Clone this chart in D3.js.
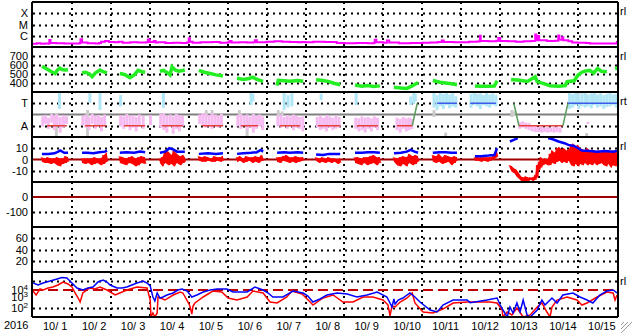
<!DOCTYPE html>
<html>
<head>
<meta charset="utf-8">
<script src="https://cdn.jsdelivr.net/npm/d3@7"></script>
<style>
body { margin: 0; background: #fff; }
text { font-family: "Liberation Sans", Arial, sans-serif; font-size: 11px; fill: #000; }
</style>
</head>
<body>
<script>
// ---- data (days since 10/1 00:00) ----
var dayLabels = ["10/ 1","10/ 2","10/ 3","10/ 4","10/ 5","10/ 6","10/ 7","10/ 8","10/ 9","10/10","10/11","10/12","10/13","10/14","10/15"];

// X-ray flux, in units of B-class (1e-7 W/m2)
var xray = [[0,1.9],[0.1,2.2],[0.2,1.9],[0.3,2.0],[0.4,1.9],[0.42,4.2],[0.45,2.3],[0.6,2.2],[0.8,2.0],[1.0,2.1],[1.1,2.0],[1.2,2.3],[1.22,4.8],[1.26,2.5],[1.4,2.2],[1.6,2.1],[1.7,2.3],[1.75,3.0],[1.85,3.4],[1.95,2.8],[2.1,2.6],[2.2,2.9],[2.3,2.4],[2.5,2.6],[2.7,2.5],[2.9,2.6],[2.95,4.6],[3.0,2.8],[3.1,3.4],[3.15,2.5],[3.2,2.6],[3.4,2.3],[3.6,2.4],[3.8,2.3],[3.95,2.5],[4.0,6.0],[4.03,3.0],[4.1,2.4],[4.3,2.7],[4.5,2.6],[4.6,2.8],[4.8,2.4],[5.0,2.6],[5.05,3.4],[5.1,2.5],[5.3,2.6],[5.5,2.5],[5.65,2.6],[5.7,4.0],[5.75,2.7],[6.0,2.9],[6.2,3.3],[6.4,2.9],[6.6,2.8],[6.8,2.6],[6.9,2.8],[7.0,2.7],[7.2,3.0],[7.5,2.8],[7.8,2.3],[8.0,2.2],[8.3,2.3],[8.6,2.2],[8.75,2.4],[8.78,4.5],[8.82,2.6],[9.0,2.4],[9.09,3.8],[9.15,2.5],[9.4,2.2],[9.7,2.3],[10.0,2.4],[10.2,2.5],[10.4,2.8],[10.5,3.8],[10.55,2.8],[10.8,2.6],[11.0,2.7],[11.2,3.0],[11.4,3.1],[11.47,3.2],[11.48,10],[11.5,3.5],[11.7,3.3],[11.9,3.6],[11.95,6.3],[12.0,3.5],[12.2,3.2],[12.4,3.0],[12.6,3.2],[12.8,3.4],[12.9,13],[12.93,4.0],[12.97,9.5],[13.0,4.0],[13.2,3.5],[13.4,3.6],[13.49,10.5],[13.52,4.5],[13.59,7.5],[13.62,4.0],[13.75,3.2],[13.85,2.5],[14.0,2.4],[14.2,2.3],[14.3,2.1],[14.5,2.0],[14.7,2.1],[14.9,2.0],[14.98,2.2],[15.0,3.4]];

// solar wind speed km/s, null = gap
var speed = [[0.23,585],[0.3,570],[0.4,545],[0.5,520],[0.57,505],[0.62,540],[0.69,565],[0.75,550],[0.82,545],[0.9,548],[0.95,null],
  [1.26,515],[1.35,520],[1.45,500],[1.52,470],[1.6,510],[1.72,545],[1.8,525],[1.9,512],[1.95,null],
  [2.23,505],[2.35,495],[2.49,460],[2.6,490],[2.7,540],[2.8,525],[2.88,520],[2.95,null],
  [3.26,530],[3.35,540],[3.45,515],[3.52,490],[3.57,580],[3.65,545],[3.75,530],[3.9,545],[3.95,null],
  [4.26,540],[4.4,520],[4.55,505],[4.7,490],[4.88,478],[4.95,null],
  [5.24,452],[5.4,440],[5.55,450],[5.65,465],[5.75,440],[5.91,418],[5.95,null],
  [6.27,370],[6.3,430],[6.45,425],[6.6,420],[6.8,428],[6.94,420],[7.0,null],
  [7.27,435],[7.45,428],[7.6,415],[7.75,395],[7.89,380],[7.95,null],
  [8.27,378],[8.45,365],[8.6,372],[8.75,362],[8.91,368],[8.95,null],
  [9.27,352],[9.45,345],[9.6,340],[9.75,370],[9.89,405],[9.95,null],
  [10.27,428],[10.45,408],[10.6,400],[10.75,392],[10.89,380],[10.95,null],
  [11.35,368],[11.5,365],[11.7,363],[11.85,366],[11.92,425],[12.0,null],
  [12.28,440],[12.5,430],[12.7,418],[12.9,470],[12.95,415],[13.1,395],[13.28,370],[13.5,365],[13.67,372],[13.72,415],[13.9,425],[14.0,489],[14.1,520],[14.2,535],[14.3,540],[14.4,510],[14.5,560],[14.6,530],[14.74,525],[14.8,null],
  [14.95,560],[15.0,565]];

// IMF longitude (deg) scatter: [day, high, low]
var awayPhi = [[0.25,210,130],[0.32,221,150],[0.4,200,110],[0.48,230,160],[0.55,215,100],[0.62,225,140],[0.7,205,80],[0.78,220,120],[0.86,210,150],
  [1.28,215,140],[1.36,225,120],[1.44,205,100],[1.52,230,150],[1.6,215,110],[1.68,220,130],[1.76,205,90],[1.84,225,140],
  [2.25,220,130],[2.33,210,110],[2.41,230,140],[2.49,215,100],[2.57,220,120],[2.65,205,90],[2.73,225,130],[2.83,215,110],
  [3.02,220,140],[3.28,230,120],[3.36,237,100],[3.44,215,80],[3.52,225,130],[3.6,210,70],[3.68,230,110],[3.76,220,90],[3.84,215,130],
  [4.28,225,150],[4.36,237,140],[4.44,230,120],[4.52,220,130],[4.6,235,110],[4.68,225,140],[4.76,215,120],[4.84,230,130],
  [5.26,220,130],[5.34,230,110],[5.42,215,140],[5.5,225,100],[5.58,210,120],[5.66,230,80],[5.74,215,110],[5.82,225,130],[5.9,210,100],
  [6.29,215,130],[6.37,225,120],[6.45,205,140],[6.53,220,110],[6.61,210,130],[6.69,225,100],[6.77,215,120],[6.85,205,110],[6.93,210,90],
  [7.3,205,120],[7.38,215,100],[7.46,200,110],[7.54,220,90],[7.62,210,120],[7.7,200,100],[7.78,215,110],[7.86,205,120],
  [8.29,200,110],[8.37,195,90],[8.45,210,100],[8.53,200,80],[8.61,205,110],[8.69,195,90],[8.77,210,120],[8.85,200,100],
  [9.35,200,100],[9.43,190,80],[9.51,205,110],[9.59,195,90],[9.67,200,100],[9.73,190,110],
  [12.5,165,110],[12.58,170,120],[12.66,160,110],[12.74,155,100],[12.82,140,90],[12.9,130,85],[12.98,125,85],[13.06,130,80],[13.14,120,85],[13.22,125,80],[13.3,120,85],[13.38,125,80],[13.46,130,85],[13.54,120,80],
  [14.25,165,150]];
var towardPhi = [[0.68,405,270],[1.46,400,320],[1.72,405,260],[2.25,380,290],[3.35,405,280],[5.6,400,300],[5.65,390,330],[6.45,400,260],[6.55,380,280],[6.65,395,290],[7.4,390,340],[8.3,400,300],[9.7,370,300],[9.78,400,310],[9.82,390,330],
  [10.3,400,280],[10.38,380,260],[10.46,405,290],[10.54,390,270],[10.62,400,300],[10.7,385,275],[10.78,400,290],[10.86,370,280],
  [11.25,390,280],[11.33,400,300],[11.41,385,290],[11.49,395,270],[11.57,380,300],[11.65,400,290],[11.73,385,280],[11.81,395,300],[11.89,380,290],
  [13.78,400,270],[13.86,390,280],[13.94,405,300],[14.02,385,270],[14.1,395,290],[14.18,400,280],[14.26,385,290],[14.34,395,275],[14.42,400,300],[14.5,385,280],[14.58,395,290],[14.66,380,270],[14.74,390,285],[14.82,400,290],[14.9,385,300],[14.98,390,280]];
var otherPhi = [[0.6,237,45],[1.4,261,45],[4.45,260,205],[4.6,261,210],[5.3,261,205],[5.5,180,50],[6.3,260,210],[6.4,250,220],[10.3,261,205],[10.6,80,45],[11.4,390,360],[12.3,261,205],[12.35,250,215],[14.0,400,320],[14.2,390,300],[14.4,380,330],[14.22,77,45]];

// sector assignment
var sectorAway = [[0.36,0.87],[1.34,1.88],[2.34,2.88],[3.31,3.85],[4.34,4.88],[5.34,5.78],[6.34,6.86],[7.32,7.89],[8.32,8.86],[9.35,9.74],[12.48,13.61]];
var sectorToward = [[10.38,10.89],[11.23,11.89],[13.74,15]];
var sectorTurns = [[9.74,135,9.87,315],[12.35,315,12.48,135],[13.61,135,13.74,315]];

// Bz range [day, low, high] nT, null = gap
var bz = [[0.23,-2,2],[0.3,-3,1],[0.38,-3,2],[0.46,-4,1],[0.54,-3,1],[0.62,-5,2],[0.69,-6,1],[0.76,-4,1],[0.84,-3,3],[0.90,-2,2],[0.95,null,null],
  [1.26,-3,1],[1.34,-4,1],[1.42,-3,1],[1.5,-5,1],[1.58,-4,2],[1.66,-3,1],[1.74,-5,1],[1.82,-4,4],[1.90,-2,6],[1.95,null,null],
  [2.23,-3,3],[2.31,-4,2],[2.39,-5,1],[2.47,-3,2],[2.55,-4,3],[2.63,-6,1],[2.71,-5,2],[2.79,-3,3],[2.88,-4,2],[2.95,null,null],
  [3.26,-3,1],[3.32,-6,2],[3.4,-3,8],[3.48,-5,7],[3.56,-4,4],[3.62,-6,8],[3.70,-3,5],[3.78,-5,3],[3.86,-3,4],[3.90,-2,2],[3.95,null,null],
  [4.26,-1,3],[4.34,-2,2],[4.42,-2,3],[4.5,-1,2],[4.58,-2,1],[4.66,-2,3],[4.74,-1,2],[4.82,-2,2],[4.88,-1,3],[4.95,null,null],
  [5.24,-2,2],[5.32,-1,3],[5.4,-3,1],[5.48,-2,3],[5.56,-1,2],[5.64,-3,2],[5.72,-2,3],[5.80,-3,2],[5.88,-1,4],[5.91,-1,2],[5.95,null,null],
  [6.27,-2,2],[6.35,-3,2],[6.43,-1,3],[6.51,-2,4],[6.59,-3,2],[6.67,-2,2],[6.75,-3,3],[6.83,-2,2],[6.94,-1,2],[7.0,null,null],
  [7.27,-1,2],[7.35,-3,1],[7.43,-2,2],[7.51,-3,1],[7.59,-2,2],[7.67,-3,1],[7.75,-2,1],[7.83,-4,0],[7.89,-3,1],[7.95,null,null],
  [8.27,-3,2],[8.35,-4,2],[8.43,-5,1],[8.51,-3,2],[8.59,-5,2],[8.67,-4,3],[8.75,-3,4],[8.83,-5,2],[8.91,-3,2],[8.95,null,null],
  [9.27,-2,2],[9.35,-5,1],[9.43,-6,2],[9.51,-4,3],[9.59,-6,2],[9.67,-3,5],[9.75,-5,3],[9.83,-4,4],[9.89,-2,3],[9.95,null,null],
  [10.27,-2,4],[10.35,-3,3],[10.43,-2,5],[10.51,-4,2],[10.59,-3,4],[10.67,-2,3],[10.75,-5,2],[10.83,-3,3],[10.89,-1,2],[10.95,null,null],
  [11.35,-1,2],[11.43,-1,2],[11.51,-2,2],[11.59,-1,2],[11.67,-2,2],[11.75,-1,2],[11.83,0,3],[11.92,2,8],[12.0,null,null],
  [12.25,-8,-5],[12.30,-11,-6],[12.36,-12,-8],[12.42,-15,-9],[12.48,-17,-12],[12.54,-19,-15],[12.60,-20,-16],[12.66,-19,-15],[12.72,-19,-16],[12.78,-18,-16],[12.84,-19,-16],[12.90,-18,-14],[12.95,-16,-5],[13.0,-9,-2],[13.05,-7,2],[13.10,-5,0],[13.16,-4,1],[13.22,-5,0],[13.28,-5,5],[13.34,-3,8],[13.40,-4,6],[13.46,-2,10],[13.52,-1,11],[13.58,-3,9],[13.64,-2,10],[13.70,-3,8],[13.76,-1,9],[13.82,-5,12],[13.88,-6,14],[13.94,-4,11],[14.0,-6,13],[14.06,-4,10],[14.12,-5,9],[14.18,-3,8],[14.24,-5,10],[14.30,-4,8],[14.36,-5,7],[14.42,-3,8],[14.48,-5,7],[14.54,-4,8],[14.60,-3,6],[14.66,-5,8],[14.72,-6,7],[14.78,-4,8],[14.84,-7,6],[14.90,-5,8],[14.96,-6,7],[15.0,-4,6]];

// Bt nT
var bt = [[0.23,5],[0.4,5],[0.55,5.5],[0.65,7],[0.7,8],[0.8,6],[0.9,6],[0.95,null],
  [1.26,6],[1.4,6],[1.55,5.5],[1.7,6.5],[1.85,7],[1.90,8],[1.95,null],
  [2.23,6],[2.4,6.5],[2.6,6],[2.75,7],[2.88,6.5],[2.95,null],
  [3.26,6],[3.4,7],[3.5,10],[3.6,9],[3.7,7],[3.9,7],[3.95,null],
  [4.26,5],[4.5,5.5],[4.7,5],[4.88,5.5],[4.95,null],
  [5.24,5],[5.4,5.5],[5.6,6],[5.75,6.5],[5.85,8.5],[5.91,7],[5.95,null],
  [6.27,6],[6.45,6.5],[6.6,6],[6.8,6.5],[6.94,6],[7.0,null],
  [7.27,4.5],[7.45,4],[7.6,5],[7.75,5],[7.89,5],[7.95,null],
  [8.27,6],[8.45,6],[8.6,6.5],[8.75,6.5],[8.91,6],[8.95,null],
  [9.27,5.5],[9.45,6],[9.6,7],[9.7,8.5],[9.8,7],[9.89,6],[9.95,null],
  [10.27,6],[10.45,6.5],[10.6,6.5],[10.75,6],[10.89,6],[10.95,null],
  [11.35,3],[11.5,3],[11.7,3.5],[11.85,4],[11.92,10],[12.0,null],
  [12.25,16],[12.35,17.5],[12.45,19],[12.5,null],
  [13.23,19],[13.35,18],[13.5,16],[13.65,14.5],[13.75,13],[13.9,12],[14.0,10],[14.1,8],[14.3,7.5],[14.5,7],[14.7,7.5],[14.9,7],[15.0,7.5]];

// electron flux (two channels)
var elecBlue = [[0,60000],[0.13,36000],[0.26,60000],[0.44,100000],[0.62,167000],[0.74,240000],[0.87,215000],[1.0,60000],[1.13,16700],[1.28,10000],[1.41,16700],[1.54,21500],[1.67,77400],[1.80,129000],[1.90,77400],[1.98,35900],[2.16,16700],[2.29,16700],[2.41,21500],[2.54,35900],[2.67,60000],[2.83,100000],[2.93,60000],[3.01,27800],[3.08,1670],[3.13,600],[3.19,4640],[3.26,1290],[3.34,1670],[3.44,2780],[3.60,4640],[3.72,10000],[3.83,12900],[3.96,7740],[4.08,1670],[4.21,2780],[4.37,6000],[4.55,10000],[4.73,12900],[4.98,12900],[5.14,6000],[5.32,6000],[5.50,6000],[5.70,21500],[5.91,10000],[6.04,4640],[6.16,1670],[6.42,1670],[6.68,7740],[6.94,4640],[7.06,2150],[7.19,460],[7.37,1000],[7.55,2780],[7.81,4640],[8.07,3590],[8.32,1670],[8.58,2780],[8.84,6000],[9.09,1670],[9.17,360],[9.22,129],[9.27,1000],[9.30,280],[9.38,770],[9.50,1290],[9.68,4640],[9.81,1670],[9.94,460],[10.20,60],[10.38,36],[10.53,215],[10.79,770],[11.15,770],[11.23,390],[11.66,770],[11.92,1290],[12.00,215],[12.07,60],[12.18,10],[12.25,129],[12.33,28],[12.43,360],[12.51,36],[12.59,770],[12.69,17],[12.77,10],[12.95,60],[13.07,770],[13.15,215],[13.33,1290],[13.46,360],[13.61,2780],[13.87,4640],[14.05,1670],[14.23,770],[14.38,360],[14.56,2780],[14.74,7740],[14.90,10000],[15.0,4640]];
var elecRed = [[0,7740],[0.08,2780],[0.18,12900],[0.26,10000],[0.39,16700],[0.51,21500],[0.64,35900],[0.77,77400],[0.90,46400],[1.0,21500],[1.08,4640],[1.16,1290],[1.21,460],[1.28,4640],[1.46,16700],[1.59,12900],[1.72,21500],[1.90,10000],[2.11,2780],[2.23,4640],[2.41,10000],[2.67,21500],[2.93,16700],[3.01,770],[3.03,10],[3.08,28],[3.13,10],[3.19,28],[3.21,1670],[3.39,770],[3.60,2780],[3.78,6000],[3.85,4640],[3.98,460],[4.03,167],[4.08,21],[4.11,167],[4.16,360],[4.37,1670],[4.62,7740],[4.85,6000],[5.01,1290],[5.24,770],[5.50,1670],[5.65,7740],[5.91,4640],[6.09,460],[6.27,360],[6.52,1670],[6.65,7740],[6.91,3590],[7.12,460],[7.19,215],[7.45,1290],[7.71,2780],[7.96,460],[8.22,460],[8.48,1670],[8.73,1670],[8.99,770],[9.12,215],[9.17,13],[9.22,167],[9.30,129],[9.43,460],[9.61,1290],[9.74,4640],[9.81,360],[10.02,36],[10.27,28],[10.53,77],[10.79,360],[11.15,460],[11.74,460],[11.92,360],[12.05,60],[12.07,10],[12.18,36],[12.30,17],[12.43,100],[12.59,10],[12.77,17],[12.95,129],[13.07,360],[13.20,36],[13.28,10],[13.33,129],[13.46,770],[13.72,1670],[13.97,770],[14.10,215],[14.23,360],[14.49,1670],[14.74,6000],[14.90,4640],[14.95,770],[15.0,2780]];
var elecAlert = 10000;

// ---- layout ----
var W = 633, H = 334,
    left = 33, right = 617, top0 = 2, panelH = 45;

var svg = d3.select("body").append("svg")
    .attr("width", W).attr("height", H);

var x = d3.scaleLinear().domain([0, 15]).range([left, right]);

function pTop(i) { return top0 + i * panelH; }
function pBot(i) { return top0 + (i + 1) * panelH; }

var yX = d3.scaleLog().domain([1e-7, 1e-3]).range([pBot(0), pTop(0)]);
var ySpd = d3.scaleLinear().domain([300, 800]).range([pBot(1), pTop(1)]);
var yPhi = d3.scaleLinear().domain([45, 405]).range([pBot(2), pTop(2)]);
var yB = d3.scaleLinear().domain([-20, 20]).range([pBot(3), pTop(3)]);
var yDst = d3.scaleLinear().domain([-200, 100]).range([pBot(4), pTop(4)]);
var yKp = d3.scaleLinear().domain([0, 80]).range([pBot(5), pTop(5)]);
var yE = d3.scaleLog().domain([10, 1e6]).range([pBot(6), pTop(6)]).clamp(true);

// clip paths for each panel
var defs = svg.append("defs");
for (var i = 0; i < 7; i++) {
  defs.append("clipPath").attr("id", "clip" + i)
    .append("rect").attr("x", left).attr("y", pTop(i)).attr("width", right - left).attr("height", panelH);
}

//dotted horizontal grid
function hgrid(scale, vals) {
  svg.append("g").selectAll("line").data(vals).enter().append("line")
    .attr("x1", left).attr("x2", right)
    .attr("y1", function(d) { return Math.round(scale(d)) + 0.5; })
    .attr("y2", function(d) { return Math.round(scale(d)) + 0.5; })
    .attr("stroke", "#000").attr("stroke-width", 2)
    .attr("stroke-dasharray", "2,4");
}
hgrid(yX, [1e-4, 1e-5, 1e-6]);
hgrid(ySpd, [400, 500, 600, 700]);
hgrid(yPhi, [315, 135]);
hgrid(yB, [10, -10]);
hgrid(yDst, [-100]);
hgrid(yKp, [20, 40, 60]);
hgrid(yE, [1e5, 1e2]);

// vertical day lines
svg.append("g").selectAll("line").data(d3.range(1, 15)).enter().append("line")
  .attr("x1", function(d) { return Math.round(x(d)); })
  .attr("x2", function(d) { return Math.round(x(d)); })
  .attr("y1", top0).attr("y2", pBot(6))
  .attr("stroke", "#000").attr("stroke-width", 2)
  .attr("stroke-dasharray", "2,4");

// reference lines
svg.append("line").attr("x1", left).attr("x2", right)
  .attr("y1", yPhi(225)).attr("y2", yPhi(225))
  .attr("stroke", "#808080").attr("stroke-width", 2);
svg.append("line").attr("x1", left).attr("x2", right)
  .attr("y1", yB(0)).attr("y2", yB(0))
  .attr("stroke", "#a00000").attr("stroke-width", 2);
svg.append("line").attr("x1", left).attr("x2", right)
  .attr("y1", yDst(0)).attr("y2", yDst(0))
  .attr("stroke", "#a00000").attr("stroke-width", 2);
svg.append("line").attr("x1", left).attr("x2", right)
  .attr("y1", yE(elecAlert)).attr("y2", yE(elecAlert))
  .attr("stroke", "#c00000").attr("stroke-width", 2)
  .attr("stroke-dasharray", "10,5");

// X-ray
svg.append("path").datum(xray)
  .attr("clip-path", "url(#clip0)")
  .attr("fill", "none").attr("stroke", "#ff00ff").attr("stroke-width", 2)
  .attr("d", d3.line().curve(d3.curveStepAfter)
    .x(function(d) { return x(d[0]); }).y(function(d) { return yX(d[1] * 1e-7); }));

// speed
svg.append("path").datum(speed)
  .attr("clip-path", "url(#clip1)")
  .attr("fill", "none").attr("stroke", "#22ee22").attr("stroke-width", 3.5)
  .attr("d", d3.line().defined(function(d) { return d[1] != null; })
    .x(function(d) { return x(d[0]); }).y(function(d) { return ySpd(d[1]); }));

// phi scatter
function phiBars(data, color) {
  svg.append("g").attr("clip-path", "url(#clip2)")
    .selectAll("rect").data(data).enter().append("rect")
    .attr("x", function(d) { return x(d[0]) - 1.5; })
    .attr("y", function(d) { return yPhi(d[1]); })
    .attr("width", 3)
    .attr("height", function(d) { return yPhi(d[2]) - yPhi(d[1]); })
    .attr("fill", color);
}
phiBars(otherPhi, "#cccccc");
phiBars(towardPhi, "#b0e6f6");
phiBars(awayPhi, "#f6bcf2");

svg.append("g").selectAll("line").data(sectorAway).enter().append("line")
  .attr("x1", function(d) { return x(d[0]); }).attr("x2", function(d) { return x(d[1]); })
  .attr("y1", yPhi(135)).attr("y2", yPhi(135))
  .attr("stroke", "#e8403c").attr("stroke-width", 1.5);
svg.append("g").selectAll("line").data(sectorToward).enter().append("line")
  .attr("x1", function(d) { return x(d[0]); }).attr("x2", function(d) { return x(d[1]); })
  .attr("y1", yPhi(315)).attr("y2", yPhi(315))
  .attr("stroke", "#3c5ce8").attr("stroke-width", 1.5);
svg.append("g").selectAll("line").data(sectorTurns).enter().append("line")
  .attr("x1", function(d) { return x(d[0]); }).attr("y1", function(d) { return yPhi(d[1]); })
  .attr("x2", function(d) { return x(d[2]); }).attr("y2", function(d) { return yPhi(d[3]); })
  .attr("stroke", "#5c9c5c").attr("stroke-width", 1.5);

// Bz: filled low-high band plus a zigzag for texture, Bt on top
svg.append("path").datum(bz)
  .attr("clip-path", "url(#clip3)")
  .attr("fill", "#ff0000")
  .attr("d", d3.area().defined(function(d) { return d[1] != null; })
    .x(function(d) { return x(d[0]); })
    .y0(function(d) { return yB(d[1]); })
    .y1(function(d) { return yB(d[2]); }));
var bzZig = [];
bz.forEach(function(d) {
  if (d[1] == null) { bzZig.push([d[0], null]); return; }
  bzZig.push([d[0] - 0.02, d[2]]);
  bzZig.push([d[0] + 0.02, d[1]]);
});
svg.append("path").datum(bzZig)
  .attr("clip-path", "url(#clip3)")
  .attr("fill", "none").attr("stroke", "#ff0000").attr("stroke-width", 1)
  .attr("d", d3.line().defined(function(d) { return d[1] != null; })
    .x(function(d) { return x(d[0]); }).y(function(d) { return yB(d[1]); }));
svg.append("path").datum(bt)
  .attr("clip-path", "url(#clip3)")
  .attr("fill", "none").attr("stroke", "#0000ff").attr("stroke-width", 2.5)
  .attr("d", d3.line().defined(function(d) { return d[1] != null; })
    .x(function(d) { return x(d[0]); }).y(function(d) { return yB(d[1]); }));

// electrons
var eLine = d3.line().x(function(d) { return x(d[0]); }).y(function(d) { return yE(d[1]); });
svg.append("path").datum(elecRed)
  .attr("clip-path", "url(#clip6)")
  .attr("fill", "none").attr("stroke", "#ff0000").attr("stroke-width", 1.5)
  .attr("d", eLine);
svg.append("path").datum(elecBlue)
  .attr("clip-path", "url(#clip6)")
  .attr("fill", "none").attr("stroke", "#0000ff").attr("stroke-width", 1.5)
  .attr("d", eLine);

// panel frames
for (var i = 0; i <= 7; i++) {
  svg.append("line").attr("x1", left - 1).attr("x2", right + 1)
    .attr("y1", pTop(i)).attr("y2", pTop(i))
    .attr("stroke", "#000").attr("stroke-width", 2);
}
svg.append("line").attr("x1", left - 1).attr("x2", left - 1).attr("y1", top0).attr("y2", pBot(6))
  .attr("stroke", "#000").attr("stroke-width", 2);
svg.append("line").attr("x1", right + 1).attr("x2", right + 1).attr("y1", top0).attr("y2", pBot(6))
  .attr("stroke", "#000").attr("stroke-width", 2);

// left axes
function leftAxis(scale, vals, labels) {
  var g = svg.append("g").attr("transform", "translate(" + (left - 1) + ",0)")
    .call(d3.axisLeft(scale).tickValues(vals).tickSize(0).tickPadding(4)
      .tickFormat(function(d, i) { return labels[i]; }));
  g.select(".domain").remove();
  g.selectAll("text").attr("font-size", 10.5).attr("font-family", "Liberation Sans, Arial, sans-serif");
  return g;
}
leftAxis(yX, [1e-4, 1e-5, 1e-6], ["X", "M", "C"]);
leftAxis(ySpd, [700, 600, 500, 400], ["700", "600", "500", "400"]);
leftAxis(yPhi, [315, 135], ["T", "A"]);
leftAxis(yB, [10, 0, -10], ["10", "0", "-10"]);
leftAxis(yDst, [0, -100], ["0", "-100"]);
leftAxis(yKp, [60, 40, 20], ["60", "40", "20"]);

var eTicks = [1e4, 1e3, 1e2], eExp = ["4", "3", "2"], eNudge = [0, -2, 0];
var ge = svg.append("g");
eTicks.forEach(function(v, i) {
  var t = ge.append("text").attr("x", left - 5).attr("y", yE(v) + 4 + eNudge[i])
    .attr("text-anchor", "end").attr("font-size", 10.5);
  t.append("tspan").text("10");
  t.append("tspan").attr("dy", -4).attr("font-size", 8).text(eExp[i]);
});

// bottom labels
var gx = svg.append("g").attr("transform", "translate(0," + (pBot(6)) + ")")
  .call(d3.axisBottom(x).tickValues(d3.range(15)).tickSize(0).tickPadding(5)
    .tickFormat(function(d, i) { return dayLabels[i]; }));
gx.select(".domain").remove();
gx.selectAll("text").attr("text-anchor", "start").attr("x", 9.5)
  .attr("font-size", 11).attr("font-family", "Liberation Sans, Arial, sans-serif")
  .style("white-space", "pre");
svg.append("text").attr("x", 4).attr("y", 329).text("2016");

// right side flags
var flags = [["rl", 0], ["rl", 1], ["rt", 2], ["rl", 3], ["rl", 6]];
svg.append("g").selectAll("text").data(flags).enter().append("text")
  .attr("x", 620).attr("y", function(d) { return pTop(d[1]) + 13; })
  .text(function(d) { return d[0]; });

// resize grip
svg.append("g").selectAll("line").data([0, 4, 8]).enter().append("line")
  .attr("x1", function(d) { return 632 - d; }).attr("y1", 322)
  .attr("x2", 621).attr("y2", function(d) { return 333 - d; })
  .attr("stroke", "#999").attr("stroke-width", 1);
</script>
</body>
</html>
